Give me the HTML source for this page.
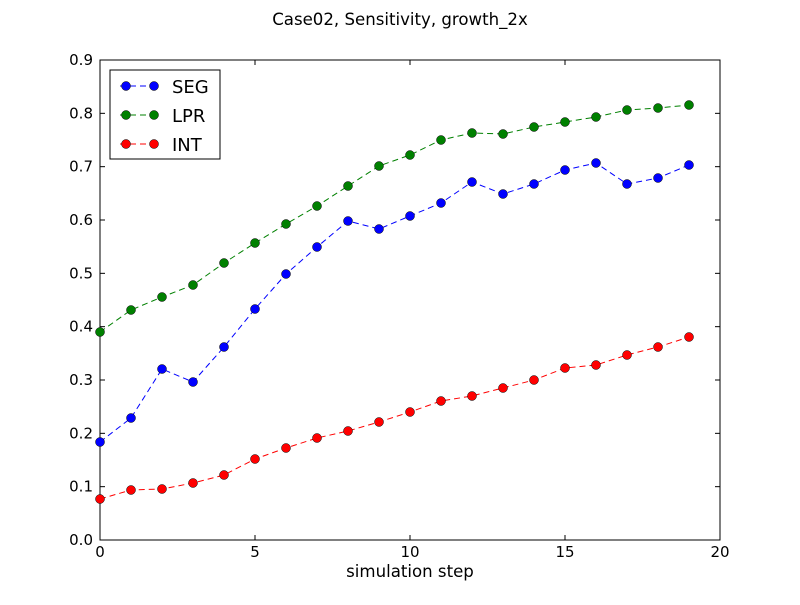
<!DOCTYPE html>
<html><head><style>body{margin:0;background:#fff}svg text{font-family:"DejaVu Sans","Liberation Sans",sans-serif}</style></head><body>
<svg width="800" height="600" xmlns="http://www.w3.org/2000/svg">
<rect width="800" height="600" fill="#fff"/>
<text x="400" y="25" font-size="16.6" text-anchor="middle">Case02, Sensitivity, growth_2x</text>
<rect x="100" y="60" width="620" height="480" fill="#fff" stroke="#000" stroke-width="1"/>
<g stroke="#000" stroke-width="1">
<line x1="100" y1="540" x2="100" y2="535"/><line x1="255" y1="540" x2="255" y2="535"/><line x1="410" y1="540" x2="410" y2="535"/><line x1="565" y1="540" x2="565" y2="535"/><line x1="720" y1="540" x2="720" y2="535"/>
<line x1="100" y1="60" x2="100" y2="65"/><line x1="255" y1="60" x2="255" y2="65"/><line x1="410" y1="60" x2="410" y2="65"/><line x1="565" y1="60" x2="565" y2="65"/><line x1="720" y1="60" x2="720" y2="65"/>
</g>
<g font-size="15" text-anchor="middle">
<text x="100" y="557">0</text><text x="255" y="557">5</text><text x="410" y="557">10</text><text x="565" y="557">15</text><text x="720" y="557">20</text>
</g>
<text x="410" y="577" font-size="16.6" text-anchor="middle">simulation step</text>
<g font-size="15" text-anchor="end" id="yt"></g>
<g id="yticks" stroke="#000"></g>
<script>
var yt=document.getElementById('yt'),yk=document.getElementById('yticks'),ns="http://www.w3.org/2000/svg";
for(var i=0;i<=9;i++){var y=540-i*480/9;var t=document.createElementNS(ns,'text');t.setAttribute('x',93);t.setAttribute('y',y+5);t.textContent=(i/10).toFixed(1);yt.appendChild(t);
[[100,105],[720,715]].forEach(function(p){var l=document.createElementNS(ns,'line');l.setAttribute('x1',p[0]);l.setAttribute('x2',p[1]);l.setAttribute('y1',y);l.setAttribute('y2',y);yk.appendChild(l);});}
var d={blue:[442,418,369,382,347,309,274,247,221,229,216,203,182,194,184,170,163,184,178,165],
green:[332,310,297,285,263,243,224,206,186,166,155,140,133,134,127,122,117,110,108,105],
red:[499,490,489,483,475,459,448,438,431,422,412,401,396,388,380,368,365,355,347,337]};
var svg=document.querySelector('svg');
for(var c in d){var pts=d[c].map(function(y,i){return (100+31*i)+','+y;});
var pl=document.createElementNS(ns,'polyline');pl.setAttribute('points',pts.join(' '));pl.setAttribute('fill','none');pl.setAttribute('stroke',c);pl.setAttribute('stroke-dasharray','6,4');svg.appendChild(pl);
d[c].forEach(function(y,i){var ci=document.createElementNS(ns,'circle');ci.setAttribute('cx',100+31*i);ci.setAttribute('cy',y);ci.setAttribute('r',4.5);ci.setAttribute('fill',c);ci.setAttribute('stroke','#000');ci.setAttribute('stroke-width','0.5');svg.appendChild(ci);});}
</script>
<rect x="110" y="70" width="110" height="89" fill="#fff" stroke="#000"/>
<g font-size="18">
<line x1="120" y1="86" x2="160" y2="86" stroke="blue" stroke-dasharray="6,4"/><circle cx="126" cy="86" r="4.5" fill="blue" stroke="#000" stroke-width=".5"/><circle cx="154" cy="86" r="4.5" fill="blue" stroke="#000" stroke-width=".5"/><text x="172" y="93">SEG</text>
<line x1="120" y1="115" x2="160" y2="115" stroke="green" stroke-dasharray="6,4"/><circle cx="126" cy="115" r="4.5" fill="green" stroke="#000" stroke-width=".5"/><circle cx="154" cy="115" r="4.5" fill="green" stroke="#000" stroke-width=".5"/><text x="172" y="122">LPR</text>
<line x1="120" y1="144" x2="160" y2="144" stroke="red" stroke-dasharray="6,4"/><circle cx="126" cy="144" r="4.5" fill="red" stroke="#000" stroke-width=".5"/><circle cx="154" cy="144" r="4.5" fill="red" stroke="#000" stroke-width=".5"/><text x="172" y="151">INT</text>
</g>
</svg>
</body></html>
